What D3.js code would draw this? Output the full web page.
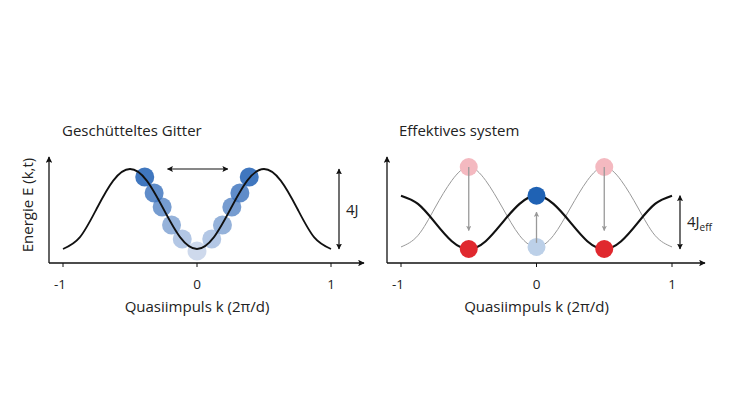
<!DOCTYPE html>
<html><head><meta charset="utf-8">
<script src="https://cdn.jsdelivr.net/npm/d3@7"></script>
<style>body{margin:0;background:#fff}text,tspan{font-family:"Open Sans",sans-serif;fill:#222}</style>
</head><body>
<svg width="733" height="414"></svg>
<script>
// band samples, k from -1 to 1 in steps of 1/8
const kGrid = [-1,-0.875,-0.75,-0.625,-0.5,-0.375,-0.25,-0.125,0,0.125,0.25,0.375,0.5,0.625,0.75,0.875,1];
const bandShaken = [-1,-0.71,0,0.71,1,0.71,0,-0.71,-1,-0.71,0,0.71,1,0.71,0,-0.71,-1];
const bandEff = [0.3,0.1,-0.35,-0.81,-1,-0.81,-0.35,0.1,0.3,0.1,-0.35,-0.81,-1,-0.81,-0.35,0.1,0.3];
const bandGhost = [-0.95,-0.67,0,0.67,1,0.67,0,-0.67,-0.95,-0.67,0,0.67,1,0.67,0,-0.67,-0.95];
// atoms on the left panel
const dotK = [-0.39,-0.32,-0.26,-0.19,-0.11,0,0.11,0.19,0.26,0.32,0.39];
const dotE = [0.8,0.4,0.05,-0.4,-0.75,-1.05,-0.75,-0.4,0.05,0.4,0.8];
const dotShade = [1,0.8,0.65,0.45,0.25,0.08,0.25,0.45,0.65,0.8,1];
// atoms on the right panel
const effDots = [
  {k:-0.5,E:1,c:"#f4b9c0"},{k:0.5,E:1,c:"#f4b9c0"},
  {k:0,E:-0.95,c:"#bcd0e8"},
  {k:-0.5,E:-1,c:"#e0282e"},{k:0.5,E:-1,c:"#e0282e"},
  {k:0,E:0.3,c:"#1f62b4"}];
const grayArrows = [{k:-0.5,from:1,to:-0.55},{k:0.5,from:1,to:-0.55},{k:0,from:-0.85,to:-0.1}];
const ticks = [-1,0,1];

const svg = d3.select("svg");
const defs = svg.append("defs");
function marker(id,col,s){
  defs.append("marker").attr("id",id).attr("viewBox","0 0 10 10").attr("refX",9).attr("refY",5)
    .attr("markerWidth",s).attr("markerHeight",s).attr("orient","auto-start-reverse")
    .append("path").attr("d","M0,0L10,5L0,10L2,5z").attr("fill",col);
}
marker("ab","#111",5); marker("ag","#999",4);

function panel(x0,x1,yLo,yHi,title,tx){
  const x = d3.scaleLinear().domain([-1,1]).range([x0,x1]);
  const y = d3.scaleLinear().domain([-1,1]).range([yLo,yHi]);
  const g = svg.append("g");
  g.append("line").attr("x1",x0-14).attr("x2",x1+33).attr("y1",263).attr("y2",263)
    .attr("stroke","#111").attr("stroke-width",1.3).attr("marker-end","url(#ab)");
  g.append("line").attr("x1",x0-14).attr("x2",x0-14).attr("y1",263).attr("y2",157)
    .attr("stroke","#111").attr("stroke-width",1.3).attr("marker-end","url(#ab)");
  ticks.forEach(t=>{
    g.append("line").attr("x1",x(t)).attr("x2",x(t)).attr("y1",263).attr("y2",267).attr("stroke","#111");
    g.append("text").attr("x",x(t)+(t<0?-3:0)).attr("y",289).attr("text-anchor","middle")
      .attr("font-size",13.5).text(t);
  });
  g.append("text").attr("x",(x0+x1)/2).attr("y",312).attr("text-anchor","middle")
    .attr("font-size",15).text("Quasiimpuls k (2π/d)");
  g.append("text").attr("x",tx).attr("y",136).attr("font-size",15).text(title);
  return {x,y,g};
}
const line = (x,y,vals)=>d3.line().x((d,i)=>x(kGrid[i])).y(d=>y(d)).curve(d3.curveNatural)(vals);

// left
const L = panel(63,331,249,169,"Geschütteltes Gitter",62);
svg.append("text").attr("transform","translate(33,205) rotate(-90)").attr("text-anchor","middle")
  .attr("font-size",15).text("Energie E (k,t)");
const blue = d3.interpolateRgb("#d3dcee","#1f5fb4");
L.g.selectAll("circle").data(dotK.map((k,i)=>({k,E:dotE[i],s:dotShade[i]})).sort((a,b)=>a.s-b.s))
  .join("circle").attr("cx",d=>L.x(d.k)).attr("cy",d=>L.y(d.E)).attr("r",9.5)
  .attr("fill",d=>blue(d.s)).attr("opacity",0.85);
L.g.append("path").attr("d",line(L.x,L.y,bandShaken)).attr("fill","none").attr("stroke","#111").attr("stroke-width",1.8);
L.g.append("line").attr("x1",L.x(-0.22)).attr("x2",L.x(0.23)).attr("y1",169).attr("y2",169)
  .attr("stroke","#111").attr("stroke-width",1.2).attr("marker-start","url(#ab)").attr("marker-end","url(#ab)");
L.g.append("line").attr("x1",339).attr("x2",339).attr("y1",L.y(1)).attr("y2",L.y(-1))
  .attr("stroke","#111").attr("stroke-width",1.2).attr("marker-start","url(#ab)").attr("marker-end","url(#ab)");
L.g.append("text").attr("x",346).attr("y",215).attr("font-size",15).text("4J");

// right
const R = panel(401,672,249,167,"Effektives system",399);
R.g.append("path").attr("d",line(R.x,R.y,bandGhost)).attr("fill","none").attr("stroke","#999").attr("stroke-width",1);
R.g.append("path").attr("d",line(R.x,R.y,bandEff)).attr("fill","none").attr("stroke","#111").attr("stroke-width",2.2);
R.g.selectAll("circle").data(effDots).join("circle").attr("cx",d=>R.x(d.k)).attr("cy",d=>R.y(d.E))
  .attr("r",9).attr("fill",d=>d.c);
grayArrows.forEach(a=>{
  R.g.append("line").attr("x1",R.x(a.k)).attr("x2",R.x(a.k)).attr("y1",R.y(a.from)).attr("y2",R.y(a.to))
    .attr("stroke","#999").attr("stroke-width",1.3).attr("marker-end","url(#ag)");
});
R.g.append("line").attr("x1",680).attr("x2",680).attr("y1",R.y(0.3)).attr("y2",R.y(-1))
  .attr("stroke","#111").attr("stroke-width",1.2).attr("marker-start","url(#ab)").attr("marker-end","url(#ab)");
const t = R.g.append("text").attr("x",687).attr("y",227).attr("font-size",15).text("4J");
t.append("tspan").attr("dy",4).attr("font-size",10).text("eff");
</script>
</body></html>
